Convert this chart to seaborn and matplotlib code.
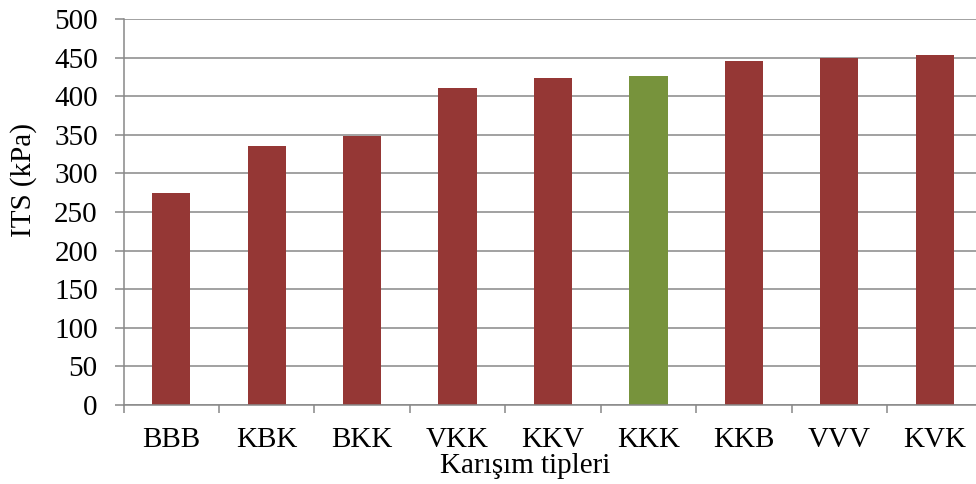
import matplotlib
matplotlib.use("Agg")
import matplotlib.pyplot as plt
import seaborn as sns
import pandas as pd

categories = ["BBB", "KBK", "BKK", "VKK", "KKV", "KKK", "KKB", "VVV", "KVK"]
its_values = [275, 336, 349, 411, 423, 426, 446, 449, 453]
bar_colors = ["#953735", "#953735", "#953735", "#953735", "#953735",
              "#77933C", "#953735", "#953735", "#953735"]
y_label = "ITS (kPa)"
x_label = "Karışım tipleri"

sns.set_theme(style="white")
plt.rcParams['font.family'] = ['Liberation Serif', 'DejaVu Serif']
plt.rcParams['text.color'] = 'black'

W, H = 976, 484
fig = plt.figure(figsize=(W / 100, H / 100), dpi=100)
ax = fig.add_axes([123.5 / W, 1 - 405 / H, 859 / W, 386 / H])

df = pd.DataFrame({"cat": categories, "val": its_values})
sns.barplot(data=df, x="cat", y="val", hue="cat", palette=bar_colors,
            legend=False, width=0.4, saturation=1, edgecolor="none", ax=ax)

ax.set_xlim(-0.5, len(categories) - 0.5)
ax.set_ylim(0, 500)
ax.set_yticks(range(0, 501, 50))
ax.set_xlabel("")
ax.set_ylabel("")

gc = "#888888"
ax.grid(axis="y", color=gc, linewidth=1.1)
ax.set_axisbelow(True)
for s in ["top", "right"]:
    ax.spines[s].set_visible(False)
for s in ["left", "bottom"]:
    ax.spines[s].set_color(gc)
    ax.spines[s].set_linewidth(1.1)

ax.tick_params(axis="y", which="major", length=6.5, width=1.1, color=gc,
               direction="out", pad=12, labelsize=21, labelcolor="black", left=True)
ax.tick_params(axis="x", which="major", length=0, pad=16, labelsize=21,
               labelcolor="black")
ax.set_xticks([i - 0.5 for i in range(len(categories) + 1)], minor=True)
ax.tick_params(axis="x", which="minor", length=5.5, width=1.1, color=gc,
               direction="out", bottom=True)

fig.text(24 / W, 1 - 180 / H, y_label, rotation=90, ha="center", va="center",
         fontsize=21, color="black")
fig.text(525 / W, 1 - 473 / H, x_label, ha="center", va="baseline",
         fontsize=21, color="black")

fig.savefig("out.png", dpi=100)
